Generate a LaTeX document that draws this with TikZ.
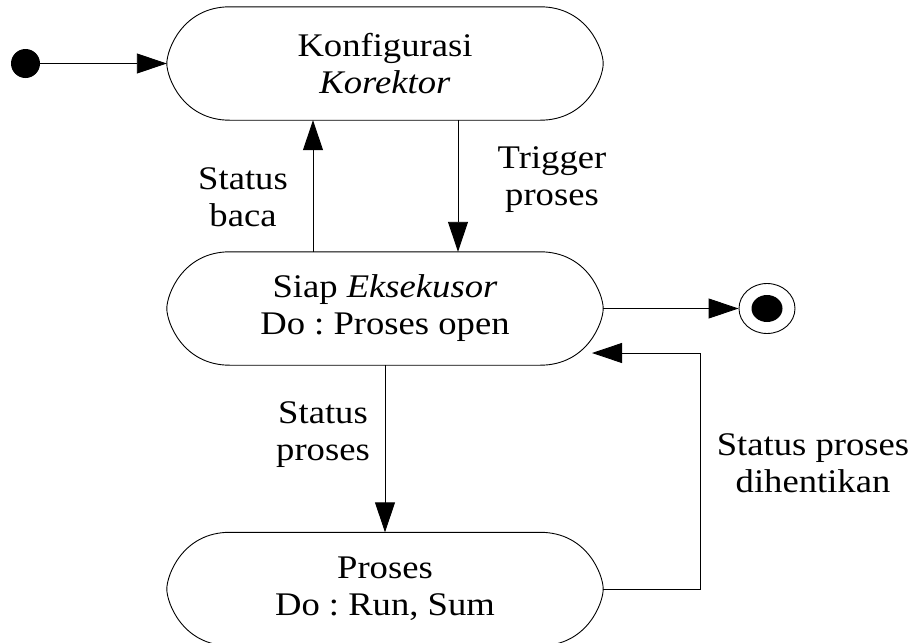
\documentclass[tikz,border=0pt]{standalone}
\usepackage{fontspec}
\setmainfont{Liberation Serif}[FakeStretch=1.11]
\usetikzlibrary{arrows.meta,shapes.geometric,calc}
\frenchspacing
\newcommand\stadium[1]{%
 \draw[boxline] ([xshift=63pt]#1.north west) -- ([xshift=-63pt]#1.north east)
  .. controls ([xshift=-16pt]#1.north east) and ([yshift=14pt]#1.east) .. (#1.east)
  .. controls ([yshift=-14pt]#1.east) and ([xshift=-16pt]#1.south east) .. ([xshift=-63pt]#1.south east)
  -- ([xshift=63pt]#1.south west)
  .. controls ([xshift=16pt]#1.south west) and ([yshift=-14pt]#1.west) .. (#1.west)
  .. controls ([yshift=14pt]#1.west) and ([xshift=16pt]#1.north west) .. ([xshift=63pt]#1.north west) -- cycle;}
\begin{document}
\begin{tikzpicture}[x=1pt,y=1pt,
  statebox/.style={minimum width=436pt,minimum height=113pt,inner sep=0pt,align=center,font=\fontsize{33}{37}\selectfont\frenchspacing},
  lbl/.style={align=center,font=\fontsize{33}{37}\selectfont\frenchspacing,inner sep=0pt},
  boxline/.style={line width=0.9pt},
  tr/.style={line width=0.9pt,-{Triangle[length=30pt,width=20pt]}}]
\clip (0,0) rectangle (911,-643);
% states
\node[statebox] (konf) at (385,-63.5) {Konfigurasi\\\textit{Korektor}};
\node[statebox] (siap) at (385,-308.5) {Siap \textit{Eksekusor}\\Do : Proses open};
\node[statebox] (proses) at (385,-589) {Proses\\Do : Run, Sum};
\stadium{konf}
\stadium{siap}
\stadium{proses}
% initial and final
\node[circle,fill,minimum size=29pt,inner sep=0pt] (init) at (25.5,-63.5) {};
\node[ellipse,draw,boxline,minimum width=56pt,minimum height=50pt,inner sep=0pt] (fin) at (767,-308.5) {};
\node[ellipse,fill,minimum width=31pt,minimum height=27pt,inner sep=0pt] (fininner) at (fin) {};
% helper coordinates
\coordinate (sb) at (313,0);
\coordinate (tp) at (458,0);
\coordinate (rc) at (700,-589);
\coordinate (rt) at (592,-353);
% connectors
\draw[tr] (init) -- (konf.west);
\draw[tr] (siap.north -| sb) -- (konf.south -| sb);
\draw[tr] (konf.south -| tp) -- (siap.north -| tp);
\draw[tr] (siap.east) -- (fin.west);
\draw[tr] (siap.south) -- (proses.north);
\draw[tr] (proses.east) -- (rc) |- (rt);
% labels
\node[lbl] (l1) at (243,-197) {Status\\baca};
\node[lbl] (l2) at (552,-180) {Trigger\\proses};
\node[lbl] (l3) at (323,-435) {Status\\proses};
\node[lbl] (l4) at (813,-463) {Status proses\\dihentikan};
\end{tikzpicture}
\end{document}
